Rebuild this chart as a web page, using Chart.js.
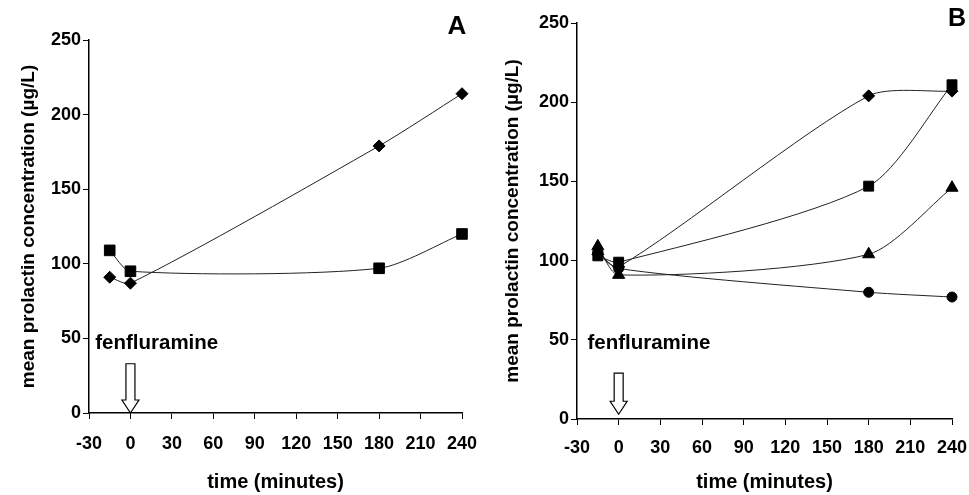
<!DOCTYPE html>
<html>
<head>
<meta charset="utf-8">
<script src="https://cdn.jsdelivr.net/npm/chart.js@4"></script>
<style>
  html, body { margin: 0; padding: 0; background: #fff; }
  #wrap { position: relative; width: 969px; height: 495px; }
  .panel { position: absolute; top: 0; height: 495px; }
  #panel-a { left: 0; width: 484px; }
  #panel-b { left: 484px; width: 485px; }
</style>
</head>
<body>
<div id="wrap">
  <div class="panel" id="panel-a"><canvas id="chart-a"></canvas></div>
  <div class="panel" id="panel-b"><canvas id="chart-b"></canvas></div>
</div>
<script>
const TIME = [-15, 0, 180, 240];
const X_TICKS = [-30, 0, 30, 60, 90, 120, 150, 180, 210, 240];
const Y_TICKS = [0, 50, 100, 150, 200, 250];

// panel A
const A_DIAMOND = [91, 87, 179, 214];
const A_SQUARE = [109, 95, 97, 120];

// panel B
const B_DIAMOND = [104, 96, 204, 207];
const B_SQUARE = [103, 99, 147, 211];
const B_TRIANGLE = [109, 91, 104, 146];
const B_CIRCLE = [105, 95, 80, 77];

const FONT = '"Liberation Sans", Arial, sans-serif';

function series(values, style, radius) {
  return {
    data: TIME.map((t, i) => ({ x: t, y: values[i] })),
    borderColor: '#222',
    borderWidth: 1,
    backgroundColor: '#000',
    pointBorderColor: '#000',
    pointBackgroundColor: '#000',
    pointStyle: style,
    pointRadius: radius,
    tension: 0.25,
    fill: false,
    clip: false,
  };
}

// fenfluramine label, hollow arrow and panel letter
const notes = {
  id: 'notes',
  afterDatasetsDraw(chart, args, o) {
    const { ctx, chartArea, scales: { x, y } } = chart;
    ctx.save();
    ctx.fillStyle = '#000';
    ctx.font = `bold 20.5px ${FONT}`;
    ctx.textBaseline = 'middle';
    ctx.textAlign = 'left';
    ctx.fillText('fenfluramine', x.getPixelForValue(o.textX), y.getPixelForValue(o.textY));

    const cx = x.getPixelForValue(0);
    const top = y.getPixelForValue(o.arrowTop);
    const tip = y.getPixelForValue(o.arrowTip);
    const headH = 13, shaftW = 4.5, headW = 8.5;
    ctx.beginPath();
    ctx.moveTo(cx - shaftW, top);
    ctx.lineTo(cx + shaftW, top);
    ctx.lineTo(cx + shaftW, tip - headH);
    ctx.lineTo(cx + headW, tip - headH);
    ctx.lineTo(cx, tip);
    ctx.lineTo(cx - headW, tip - headH);
    ctx.lineTo(cx - shaftW, tip - headH);
    ctx.closePath();
    ctx.fillStyle = '#fff';
    ctx.fill();
    ctx.strokeStyle = '#000';
    ctx.lineWidth = 1.2;
    ctx.stroke();

    ctx.fillStyle = '#000';
    ctx.font = `bold ${o.letterSize}px ${FONT}`;
    ctx.textAlign = 'center';
    ctx.fillText(o.letter, chartArea.right + o.letterDx, chartArea.top + o.letterDy);
    ctx.restore();
  }
};

function makeChart(id, datasets, box, note) {
  return new Chart(document.getElementById(id), {
    type: 'line',
    data: { datasets },
    plugins: [notes],
    options: {
      responsive: true,
      maintainAspectRatio: false,
      animation: false,
      layout: { padding: { left: 0, right: box.right, top: box.top, bottom: 0 } },
      plugins: { legend: { display: false }, tooltip: { enabled: false }, notes: note },
      scales: {
        x: {
          type: 'linear',
          min: -30,
          max: 240,
          afterFit: (s) => { s.height = box.xh; s.paddingLeft = 0; s.paddingRight = 0; },
          afterBuildTicks: (s) => { s.ticks = X_TICKS.map((v) => ({ value: v })); },
          border: { color: '#000', width: 1.5 },
          grid: { drawOnChartArea: false, drawTicks: true, tickLength: 6, color: '#000' },
          ticks: { color: '#000', padding: box.xpad, maxRotation: 0, font: { family: FONT, size: 18, weight: 'bold' } },
          title: {
            display: true,
            text: 'time (minutes)',
            color: '#000',
            padding: { top: 0, bottom: 1 },
            font: { family: FONT, size: 20, weight: 'bold' },
          },
        },
        y: {
          min: 0,
          max: 250,
          afterFit: (s) => { s.width = box.yw; s.paddingTop = 0; s.paddingBottom = 0; },
          afterBuildTicks: (s) => { s.ticks = Y_TICKS.map((v) => ({ value: v })); },
          border: { color: '#000', width: 1.5 },
          grid: { drawOnChartArea: false, drawTicks: true, tickLength: 6, color: '#000' },
          ticks: { color: '#000', padding: 2, font: { family: FONT, size: 18, weight: 'bold' } },
          title: {
            display: true,
            text: 'mean prolactin concentration (µg/L)',
            color: '#000',
            padding: { top: 17, bottom: 0 },
            font: { family: FONT, size: 19, weight: 'bold' },
          },
        },
      },
    },
  });
}

makeChart('chart-a', [
  series(A_DIAMOND, 'rectRot', 6),
  series(A_SQUARE, 'rect', 7.5),
], { right: 22, top: 40, xh: 82, yw: 89, xpad: 14 },
{ textX: -25.5, textY: 47, arrowTop: 33, arrowTip: 0, letter: 'A', letterSize: 26, letterDx: -5, letterDy: -13 });

makeChart('chart-b', [
  series(B_DIAMOND, 'rectRot', 6),
  series(B_SQUARE, 'rect', 7),
  series(B_TRIANGLE, 'triangle', 7),
  series(B_CIRCLE, 'circle', 5),
], { right: 17, top: 23, xh: 76, yw: 93, xpad: 12 },
{ textX: -22.5, textY: 48, arrowTop: 29, arrowTip: 3, letter: 'B', letterSize: 25, letterDx: 5, letterDy: -4 });
</script>
</body>
</html>
